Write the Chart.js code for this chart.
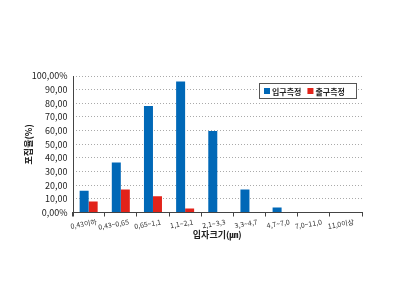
<!DOCTYPE html>
<html><head><meta charset="utf-8">
<script src="https://cdn.jsdelivr.net/npm/chart.js@4/dist/chart.umd.min.js"></script>
<style>html,body{margin:0;padding:0;background:#fff}#wrap{width:400px;height:300px}</style>
</head><body><div id="wrap"><canvas id="c" width="400" height="300"></canvas></div>
<script>
const categories = ['0,43이하','0,43~0,65','0,65~1,1','1,1~2,1','2,1~3,3','3,3~4,7','4,7~7,0','7,0~11,0','11,0이상'];
const inletValues = [16, 36.6, 78, 96, 59.8, 16.8, 3.6, 0, 0];
const outletValues = [8, 16.8, 12, 3, 0, 0, 0, 0, 0];
const seriesNames = ['입구측정','출구측정'];
const yTickLabels = ['0,00%','10,00','20,00','30,00','40,00','50,00','60,00','70,00','80,00','90,00','100,00%'];
const xTitle = '입자크기(㎛)';
const yTitle = '포집율(%)';
const FONT = "'Noto Sans CJK KR', 'Noto Sans', sans-serif";
const BLUE = '#0068b7', RED = '#e2231a';

const legendPlugin = {
  id: 'innerLegend',
  afterDatasetsDraw(chart) {
    const ctx = chart.ctx, a = chart.chartArea;
    ctx.save();
    ctx.strokeStyle = '#444'; ctx.lineWidth = 1;
    ctx.beginPath();
    ctx.moveTo(Math.round(a.left) + 0.5, a.top);
    ctx.lineTo(Math.round(a.left) + 0.5, a.bottom + 4);
    ctx.stroke();
    const x0 = 259, y0 = 83, w = 97, h = 15;
    ctx.fillStyle = '#fff';
    ctx.fillRect(x0, y0, w, h);
    ctx.strokeStyle = '#555'; ctx.lineWidth = 1;
    ctx.strokeRect(x0 + 0.5, y0 + 0.5, w, h);
    ctx.font = "bold 8px " + FONT;
    ctx.textBaseline = 'middle';
    let x = x0 + 5;
    chart.data.datasets.forEach((ds) => {
      ctx.fillStyle = ds.backgroundColor;
      ctx.fillRect(x, y0 + 5, 6, 6);
      ctx.fillStyle = '#222';
      ctx.fillText(ds.label, x + 8, y0 + h / 2 + 1);
      x += 8 + ctx.measureText(ds.label).width + 6;
    });
    ctx.restore();
  }
};

new Chart(document.getElementById('c'), {
  type: 'bar',
  data: {
    labels: categories,
    datasets: [
      { label: seriesNames[0], data: inletValues, backgroundColor: BLUE },
      { label: seriesNames[1], data: outletValues, backgroundColor: RED }
    ]
  },
  options: {
    responsive: false,
    animation: false,
    devicePixelRatio: 1,
    layout: { padding: { left: 16, right: 38, top: 76, bottom: 60 } },
    plugins: { legend: { display: false }, tooltip: { enabled: false } },
    datasets: { bar: { categoryPercentage: 0.56, barPercentage: 1 } },
    scales: {
      x: {
        grid: { display: true, offset: true, drawOnChartArea: false, drawTicks: true, tickLength: 4, color: '#444' },
        border: { display: true, color: '#444', width: 1 },
        ticks: { autoSkip: false, maxRotation: 10, minRotation: 10, labelOffset: 8, padding: 1, color: '#333', font: { family: FONT, size: 7 } },
        title: { display: true, text: xTitle, color: '#222', font: { family: FONT, size: 9, weight: 'bold' }, padding: { top: -3, bottom: 0 } }
      },
      y: {
        min: 0, max: 100,
        ticks: { stepSize: 10, autoSkip: false, padding: 5, color: '#222', font: { family: FONT, size: 9 },
          callback: (v, i) => yTickLabels[i] },
        grid: { color: '#aaa', drawTicks: false, lineWidth: 1 },
        border: { display: false, dash: [1, 2] },
        title: { display: true, text: yTitle, color: '#222', font: { family: FONT, size: 9, weight: 'bold' }, padding: { top: 7, bottom: -7 } }
      }
    }
  },
  plugins: [legendPlugin]
});
</script></body></html>
